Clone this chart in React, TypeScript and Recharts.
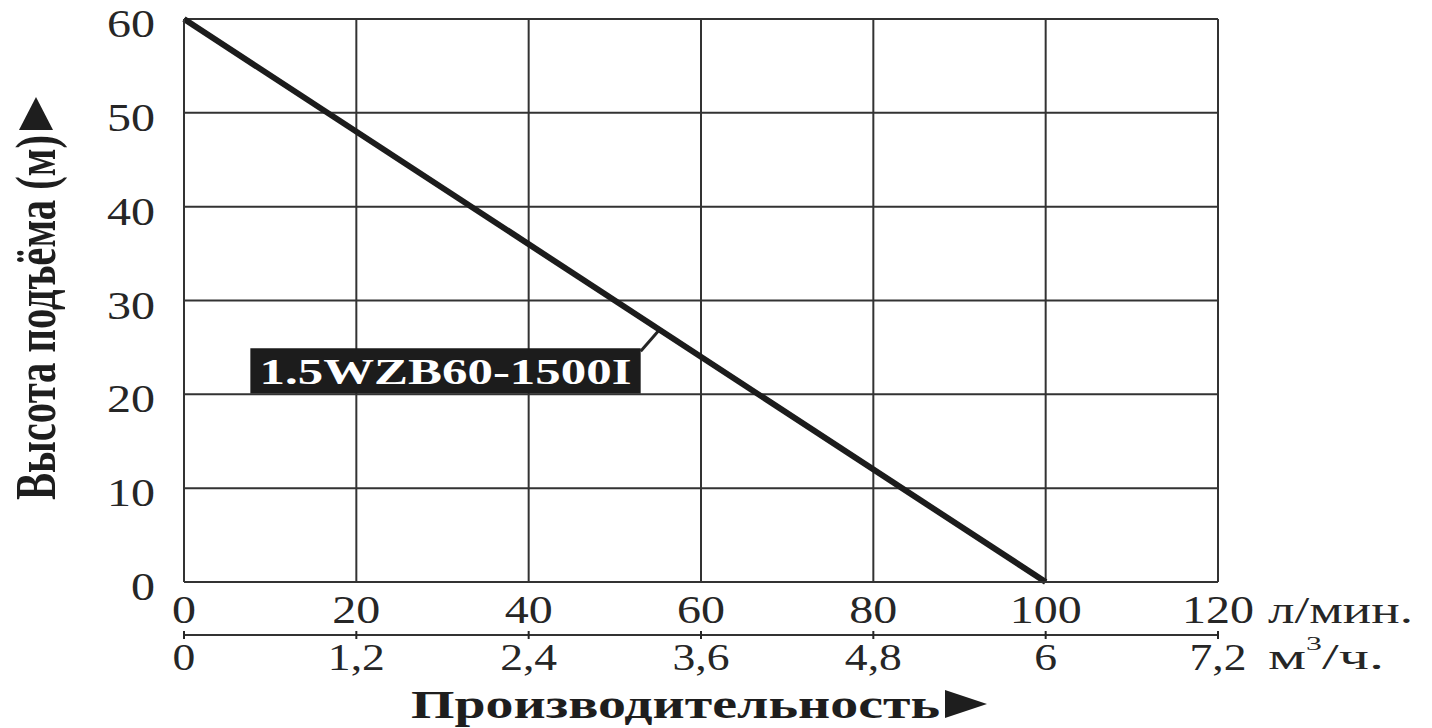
import { LineChart, Line, XAxis, YAxis, CartesianGrid, ReferenceArea, ReferenceLine, Label } from 'recharts';

// pump curve: flow (l/min and m3/h) vs head (m)
const flowLpm = [0, 100];
const flowM3h = [0, 6];
const headM = [60, 0];
const lpmTicks = [0, 20, 40, 60, 80, 100, 120];
const m3hTicks = [0, 1.2, 2.4, 3.6, 4.8, 6, 7.2];
const headTicks = [0, 10, 20, 30, 40, 50, 60];
const modelName = '1.5WZB60-1500I';

const data = flowLpm.map((q, i) => ({ q, m3: flowM3h[i], h: headM[i] }));

const FONT = '"Liberation Serif", "Times New Roman", serif';
const INK = '#262626';
const M2_MARGIN = 22;

function HeadTick({ x, y, payload }: any) {
  return (
    <text transform={`translate(${x},${y + 5}) scale(1.2,1)`} textAnchor="end" dominantBaseline="central"
      fontFamily={FONT} fontSize={40} fill={INK}>{payload.value}</text>
  );
}

function LpmTick({ x, y, payload }: any) {
  return (
    <text transform={`translate(${x},${y}) scale(1.2,1)`} textAnchor="middle" dominantBaseline="central"
      fontFamily={FONT} fontSize={40} fill={INK}>{payload.value}</text>
  );
}

function M3Tick({ x, y, payload }: any) {
  const ay = y - M2_MARGIN;
  return (
    <g>
      <line x1={x} x2={x} y1={ay - 4} y2={ay + 4} stroke={INK} strokeWidth={2} />
      <text transform={`translate(${x},${y}) scale(1.2,1)`} textAnchor="middle" dominantBaseline="central"
        fontFamily={FONT} fontSize={38} fill={INK}>{String(payload.value).replace('.', ',')}</text>
    </g>
  );
}

function LpmUnit({ viewBox }: any) {
  const x = viewBox.x + viewBox.width + 50;
  const y = viewBox.y + 28;
  return (
    <text x={x} y={y} dominantBaseline="central" fontFamily={FONT} fontSize={38} fill={INK}
      textLength={145} lengthAdjust="spacingAndGlyphs">л/мин.</text>
  );
}

function M3Unit({ viewBox }: any) {
  const x = viewBox.x + viewBox.width + 50;
  const y = viewBox.y + M2_MARGIN;
  return (
    <text x={x} y={y} dominantBaseline="central" fontFamily={FONT} fontSize={36} fill={INK}
      textLength={116} lengthAdjust="spacingAndGlyphs">
      м<tspan fontSize={19} dy={-14}>3</tspan><tspan dy={14}>/ч.</tspan>
    </text>
  );
}

function FlowTitle({ viewBox }: any) {
  const x = 411;
  const y = viewBox.y + viewBox.height + 33;
  return (
    <g>
      <text x={x} y={y} fontFamily={FONT} fontSize={41} fontWeight="bold" fill="#1e1e1e"
        textLength={529} lengthAdjust="spacingAndGlyphs">Производительность</text>
      <polygon points={`${x + 534},${y - 28} ${x + 576},${y - 14} ${x + 534},${y}`} fill="#1e1e1e" />
    </g>
  );
}

function HeadTitle() {
  const bx = 55;
  const by = 500;
  return (
    <g>
      <text transform={`translate(${bx},${by}) rotate(-90) scale(1,1.42)`} fontFamily={FONT} fontSize={40}
        fontWeight="bold" fill="#1e1e1e" textLength={365} lengthAdjust="spacingAndGlyphs">Высота подъёма (м)</text>
      <polygon points="19,130 53,130 36,97" fill="#1e1e1e" />
    </g>
  );
}

function ModelLabel({ viewBox }: any) {
  return (
    <text x={viewBox.x + viewBox.width / 2} y={viewBox.y + viewBox.height / 2 + 2} textAnchor="middle"
      dominantBaseline="central" fontFamily={FONT} fontSize={35} fontWeight="bold" fill="#fff"
      textLength={372} lengthAdjust="spacingAndGlyphs">{modelName}</text>
  );
}

export default function App() {
  return (
    <div style={{ position: 'absolute', left: 0, top: 0, background: '#fff' }}>
      <LineChart width={1432} height={728} data={data} margin={{ top: 19, right: 214, bottom: 43, left: 0 }}>
        <CartesianGrid stroke="#333" strokeWidth={2} />
        <XAxis dataKey="q" type="number" domain={[0, 120]} ticks={lpmTicks} height={53}
          axisLine={{ stroke: '#333', strokeWidth: 2 }} tickLine={false} tickSize={0} tickMargin={28}
          tick={<LpmTick />} interval={0}>
          <Label content={<LpmUnit />} />
        </XAxis>
        <XAxis xAxisId="m3" dataKey="m3" type="number" domain={[0, 7.2]} ticks={m3hTicks} height={50}
          axisLine={{ stroke: '#333', strokeWidth: 2 }} tickLine={false} tickSize={0} tickMargin={M2_MARGIN}
          tick={<M3Tick />} interval={0} allowDataOverflow>
          <Label content={<M3Unit />} />
          <Label content={<FlowTitle />} />
        </XAxis>
        <YAxis type="number" domain={[0, 60]} ticks={headTicks} width={184}
          axisLine={{ stroke: '#333', strokeWidth: 2 }} tickLine={false} tickSize={0} tickMargin={29}
          tick={<HeadTick />} interval={0}>
          <Label content={<HeadTitle />} />
        </YAxis>
        <ReferenceArea x1={7.7} x2={53.0} y1={20.1} y2={24.9} fill="#1c1c1c" fillOpacity={1} stroke="none"
          label={<ModelLabel />} />
        <ReferenceLine segment={[{ x: 53.0, y: 24.6 }, { x: 55.2, y: 26.9 }]} stroke="#262626" strokeWidth={3} />
        <Line xAxisId="m3" dataKey="h" type="linear" stroke="none" dot={false} activeDot={false} isAnimationActive={false} />
        <Line dataKey="h" type="linear" stroke="#1c1c1c" strokeWidth={6} dot={false} isAnimationActive={false} />
      </LineChart>
    </div>
  );
}
